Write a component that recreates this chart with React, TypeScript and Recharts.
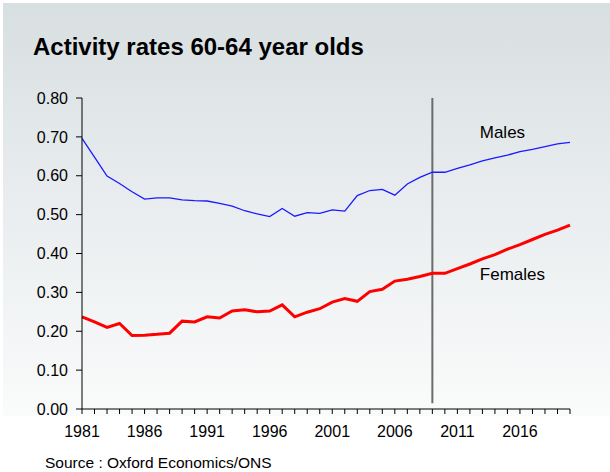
import React from 'react';
import { LineChart, Line, XAxis, YAxis, ReferenceLine, ReferenceDot } from 'recharts';

const years: number[] = [
  1981, 1982, 1983, 1984, 1985, 1986, 1987, 1988, 1989, 1990,
  1991, 1992, 1993, 1994, 1995, 1996, 1997, 1998, 1999, 2000,
  2001, 2002, 2003, 2004, 2005, 2006, 2007, 2008, 2009, 2010,
  2011, 2012, 2013, 2014, 2015, 2016, 2017, 2018, 2019, 2020,
];

const males: number[] = [
  0.696, 0.648, 0.599, 0.580, 0.559, 0.540, 0.543, 0.543, 0.538, 0.536,
  0.535, 0.529, 0.522, 0.510, 0.502, 0.495, 0.516, 0.496, 0.505, 0.503,
  0.512, 0.509, 0.549, 0.562, 0.565, 0.550, 0.579, 0.596, 0.609, 0.609,
  0.619, 0.628, 0.638, 0.646, 0.653, 0.662, 0.668, 0.675, 0.682, 0.686,
];

const females: number[] = [
  0.237, 0.224, 0.210, 0.220, 0.189, 0.190, 0.192, 0.195, 0.226, 0.224,
  0.237, 0.234, 0.252, 0.255, 0.250, 0.252, 0.268, 0.237, 0.249, 0.258,
  0.275, 0.284, 0.277, 0.302, 0.308, 0.329, 0.334, 0.341, 0.349, 0.349,
  0.361, 0.373, 0.386, 0.397, 0.411, 0.423, 0.436, 0.449, 0.460, 0.473,
];

const yTicks: number[] = [0, 0.1, 0.2, 0.3, 0.4, 0.5, 0.6, 0.7, 0.8];
const labeledYears: number[] = [1981, 1986, 1991, 1996, 2001, 2006, 2011, 2016];
const forecastStart = 2009;

const title = 'Activity rates 60-64 year olds';
const source = 'Source : Oxford Economics/ONS';

const data = years.map((year, i) => ({ year, males: males[i], females: females[i] }));

const FONT = '"Liberation Sans", Arial, Helvetica, sans-serif';

export default function App() {
  return (
    <div style={{ position: 'absolute', left: 0, top: 0, width: 610, height: 472, background: '#ffffff', fontFamily: FONT, overflow: 'hidden' }}>
      <div
        style={{
          position: 'absolute',
          left: 3,
          top: 3,
          width: 607,
          height: 413,
          background: 'linear-gradient(to bottom, #d8dfe1 0%, #e8ecee 45%, #fafbfb 100%)',
        }}
      />
      <div
        style={{
          position: 'absolute',
          left: 33,
          top: 33,
          fontSize: 24,
          fontWeight: 'bold',
          color: '#000',
          whiteSpace: 'nowrap',
          lineHeight: '28px',
        }}
      >
        {title}
      </div>
      <div
        style={{
          position: 'absolute',
          left: 45,
          top: 454,
          fontSize: 15.5,
          color: '#000',
          whiteSpace: 'nowrap',
          lineHeight: '18px',
        }}
      >
        {source}
      </div>
      <div style={{ position: 'absolute', left: 0, top: 0 }}>
        <LineChart width={610} height={472} data={data} margin={{ top: 98, right: 40, bottom: 33, left: 0 }}>
          <XAxis
            dataKey="year"
            type="number"
            domain={[1981, 2020]}
            ticks={years}
            interval={0}
            tickFormatter={(v: number) => (labeledYears.includes(v) ? String(v) : '')}
            tickSize={5}
            tickMargin={12}
            height={30}
            axisLine={{ stroke: '#000', strokeWidth: 1 }}
            tickLine={{ stroke: '#000', strokeWidth: 1 }}
            tick={{ fill: '#000', fontSize: 16, fontFamily: FONT }}
          />
          <YAxis
            type="number"
            domain={[0, 0.8]}
            ticks={yTicks}
            interval={0}
            tickFormatter={(v: number) => v.toFixed(2)}
            width={82}
            tickSize={6}
            tickMargin={8}
            axisLine={{ stroke: '#000', strokeWidth: 1 }}
            tickLine={{ stroke: '#000', strokeWidth: 1 }}
            tick={{ fill: '#000', fontSize: 16, fontFamily: FONT }}
          />
          <ReferenceLine
            segment={[{ x: forecastStart, y: 0.015 }, { x: forecastStart, y: 0.8 }]}
            stroke="#6b6b6b"
            strokeWidth={2}
          />
          <Line type="linear" dataKey="males" stroke="#1a1aff" strokeWidth={1.3} dot={false} isAnimationActive={false} />
          <Line type="linear" dataKey="females" stroke="#ff0000" strokeWidth={3} dot={false} isAnimationActive={false} />
          <ReferenceDot
            x={2014.6}
            y={0.712}
            r={1}
            fill="none"
            stroke="none"
            label={{ value: 'Males', position: 'center', fill: '#000', fontSize: 17, fontFamily: FONT }}
          />
          <ReferenceDot
            x={2015.4}
            y={0.347}
            r={1}
            fill="none"
            stroke="none"
            label={{ value: 'Females', position: 'center', fill: '#000', fontSize: 17, fontFamily: FONT }}
          />
        </LineChart>
      </div>
    </div>
  );
}
